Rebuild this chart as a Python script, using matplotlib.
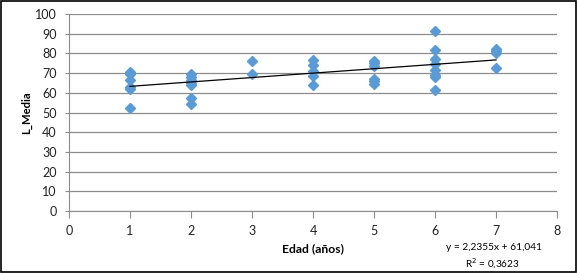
"""Scatter of L_Media against age with a linear trend line."""

import matplotlib
matplotlib.use("Agg")
import matplotlib.pyplot as plt
import numpy as np

# values
edad = [1, 1, 1, 1, 1, 1,
        2, 2, 2, 2, 2, 2, 2,
        3, 3,
        4, 4, 4, 4, 4,
        5, 5, 5, 5, 5, 5,
        6, 6, 6, 6, 6, 6, 6, 6,
        7, 7, 7, 7]
l_media = [70.5, 69.7, 66.3, 63.0, 62.0, 52.3,
           69.3, 68.0, 66.5, 65.2, 64.2, 57.2, 54.2,
           76.2, 69.6,
           76.5, 74.2, 71.2, 68.6, 63.9,
           76.0, 75.0, 73.6, 67.0, 66.2, 64.6,
           91.4, 81.6, 77.0, 74.6, 71.7, 69.2, 68.0, 61.5,
           82.0, 81.2, 80.0, 72.8]
slope = 2.2355
intercept = 61.041
r2 = 0.3623

W, H = 577, 273
plt.rcParams["font.family"] = ["Lato", "DejaVu Sans"]
fig = plt.figure(figsize=(W / 100, H / 100), dpi=100)
renderer = fig.canvas.get_renderer()


def fit_text(x, y, s, width, **kw):
    """Place text centred at pixel (x, y) and scale it to a pixel width."""
    t = fig.text(x / W, 1 - y / H, s, ha="center", va="center", fontsize=10, **kw)
    bb = t.get_window_extent(renderer)
    size = bb.height if kw.get("rotation") == 90 else bb.width
    t.set_fontsize(10 * width / size)
    return t


ax = fig.add_axes([69 / W, 1 - 211 / H, (557 - 69) / W, (211 - 14) / H])
ax.set_xlim(0, 8)
ax.set_ylim(0, 100)
ax.set_xticks(range(0, 9))
ax.set_yticks(range(0, 101, 10))
ax.yaxis.grid(True, color="#8c8c8c", linewidth=0.9)
ax.set_axisbelow(True)
for side in ("top", "right"):
    ax.spines[side].set_visible(False)
for side in ("left", "bottom"):
    ax.spines[side].set_color("#8c8c8c")
ax.tick_params(axis="both", colors="#8c8c8c", labelcolor="#222222", labelsize=9)
ax.tick_params(axis="x", length=5, pad=5)
ax.tick_params(axis="y", length=3, pad=6)

ax.plot(edad, l_media, linestyle="none", marker="D", markersize=5.5,
        color="#5b9bd5", markeredgecolor="#5b9bd5", zorder=3)

xs = np.array([min(edad), max(edad)])
ax.plot(xs, slope * xs + intercept, color="black", linewidth=0.9, zorder=4)

fit_text(27, 113, "L_Media", 43, rotation=90, fontweight="bold")
fit_text(313, 249, "Edad (años)", 62, fontweight="bold")

eq = f"y = {slope:.4f}x + {intercept:.3f}".replace(".", ",")
fit_text(494, 248, eq, 96)
fit_text(492, 264, f"R$^2$ = {r2:.4f}".replace(".", ","), 54)

# outer frame of the chart
fig.patches.append(plt.Rectangle((0.002, 0.004), 0.996, 0.992, fill=False,
                                 edgecolor="black", linewidth=1.2,
                                 transform=fig.transFigure, figure=fig))

fig.savefig("out.png", dpi=100)
